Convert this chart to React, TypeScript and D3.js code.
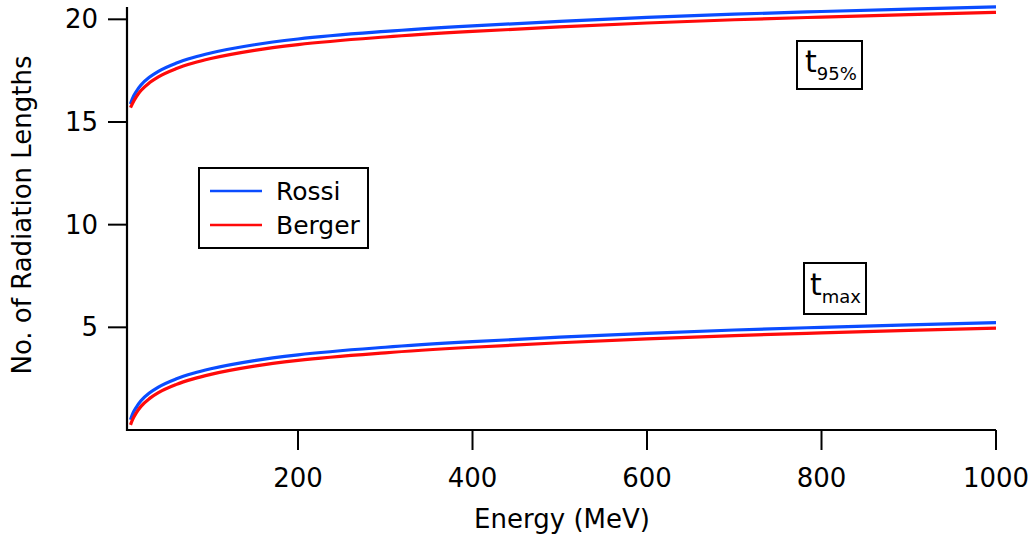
import React from 'react';
import * as d3 from 'd3';

// Energy samples (MeV) and depths (radiation lengths)
const energy = [8, 10, 15, 20, 30, 40, 60, 80, 100, 150, 200, 300, 400, 500, 600, 700, 800, 900, 1000];
const rossiTmax = [0.5, 0.74, 1.13, 1.42, 1.81, 2.09, 2.48, 2.76, 2.98, 3.38, 3.66, 4.03, 4.3, 4.52, 4.71, 4.87, 5.0, 5.12, 5.23];
const bergerTmax = [0.25, 0.47, 0.86, 1.15, 1.54, 1.82, 2.21, 2.49, 2.71, 3.11, 3.39, 3.76, 4.03, 4.25, 4.44, 4.6, 4.73, 4.85, 4.96];
const rossiT95 = [15.88, 16.12, 16.51, 16.8, 17.19, 17.47, 17.86, 18.14, 18.36, 18.76, 19.04, 19.41, 19.68, 19.9, 20.09, 20.25, 20.38, 20.5, 20.61];
const bergerT95 = [15.7, 15.88, 16.25, 16.53, 16.92, 17.2, 17.59, 17.87, 18.09, 18.49, 18.77, 19.14, 19.41, 19.63, 19.82, 19.98, 20.11, 20.23, 20.34];

const xTicks = [200, 400, 600, 800, 1000];
const yTicks = [5, 10, 15, 20];

const BLUE = '#0a4cff';
const RED = '#ff0a0a';
const FONT = '"DejaVu Sans", sans-serif';

const App: React.FC = () => {
  const width = 1036;
  const height = 535;

  const x = d3.scaleLinear().domain([4, 1000]).range([127, 996]);
  const y = d3.scaleLinear().domain([0, 20.6]).range([430, 7]);

  const line = (vals: number[]) =>
    d3.line<number>()
      .x((_, i) => x(energy[i]))
      .y(d => y(d))
      .curve(d3.curveMonotoneX)(vals) as string;

  const series = [
    { vals: rossiT95, color: BLUE },
    { vals: bergerT95, color: RED },
    { vals: rossiTmax, color: BLUE },
    { vals: bergerTmax, color: RED },
  ];

  return (
    <svg width={width} height={height} style={{ position: 'absolute', left: 0, top: 0, background: '#fff' }}>
      {/* curves */}
      {series.map((s, i) => (
        <path key={i} d={line(s.vals)} fill="none" stroke={s.color} strokeWidth={3.2} />
      ))}

      {/* axes */}
      <line x1={x.range()[0]} x2={x.range()[1]} y1={430} y2={430} stroke="#000" strokeWidth={2.2} />
      <line x1={127} x2={127} y1={y(20.6)} y2={431} stroke="#000" strokeWidth={2.2} />
      {xTicks.map(t => (
        <g key={t}>
          <line x1={x(t)} x2={x(t)} y1={430} y2={450} stroke="#000" strokeWidth={2} />
          <text x={x(t)} y={487} textAnchor="middle" fontFamily={FONT} fontSize={26} fill="#000">{t}</text>
        </g>
      ))}
      {yTicks.map(t => (
        <g key={t}>
          <line x1={108} x2={127} y1={y(t)} y2={y(t)} stroke="#000" strokeWidth={2} />
          <text x={98} y={y(t) + 9} textAnchor="end" fontFamily={FONT} fontSize={26} fill="#000">{t}</text>
        </g>
      ))}
      <text x={x(600) - 85} y={528} textAnchor="middle" fontFamily={FONT} fontSize={26} fill="#000">Energy (MeV)</text>
      <text transform="translate(31,215) rotate(-90)" textAnchor="middle" fontFamily={FONT} fontSize={26} fill="#000">
        No. of Radiation Lengths
      </text>

      {/* legend */}
      <rect x={199} y={168} width={169} height={80} fill="#fff" stroke="#000" strokeWidth={2} />
      <line x1={210} x2={262} y1={191} y2={191} stroke={BLUE} strokeWidth={2.6} />
      <line x1={210} x2={262} y1={225} y2={225} stroke={RED} strokeWidth={2.6} />
      <text x={276} y={200} fontFamily={FONT} fontSize={25} fill="#000">Rossi</text>
      <text x={276} y={234} fontFamily={FONT} fontSize={25} fill="#000">Berger</text>

      {/* annotations */}
      <rect x={797} y={41} width={65} height={48} fill="#fff" stroke="#000" strokeWidth={2} />
      <text x={805} y={72} fontFamily={FONT} fontSize={30} fill="#000">
        t<tspan fontSize={18} dy={8}>95%</tspan>
      </text>
      <rect x={804} y={263} width={62} height={51} fill="#fff" stroke="#000" strokeWidth={2} />
      <text x={810} y={295} fontFamily={FONT} fontSize={30} fill="#000">
        t<tspan fontSize={18} dy={8}>max</tspan>
      </text>
    </svg>
  );
};

export default App;
